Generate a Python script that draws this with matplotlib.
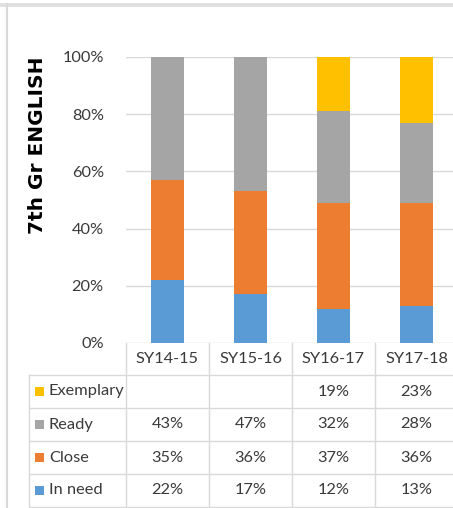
import matplotlib.pyplot as plt
from matplotlib.patches import Rectangle
from matplotlib.lines import Line2D

years = ["SY14-15", "SY15-16", "SY16-17", "SY17-18"]
in_need = [22, 17, 12, 13]
close = [35, 36, 37, 36]
ready = [43, 47, 32, 28]
exemplary = [0, 0, 19, 23]
ticks = [0, 20, 40, 60, 80, 100]

names = ["Exemplary", "Ready", "Close", "In need"]
colors = ["#FFC000", "#A5A5A5", "#ED7D31", "#5B9BD5"]
rows = [exemplary, ready, close, in_need]

W, H = 453, 508
fig = plt.figure(figsize=(W / 100, H / 100), dpi=100)
plt.rcParams['font.family'] = ['Lato', 'DejaVu Sans']
fs = 11.8
tc = "#3A3A3A"


def fx(px):
    return px / W


def fy(py):
    return 1 - py / H


# chart frame
fig.add_artist(Rectangle((0, fy(6.5)), 1, 4 / H, transform=fig.transFigure,
                         color="#E0E0E0", lw=0))
fig.add_artist(Line2D([fx(6.5), fx(6.5)], [0, fy(4)], transform=fig.transFigure,
                      color="#D9D9D9", lw=1.5))

x0, x1 = 126, 458
y100, y0 = 57, 343
ax = fig.add_axes([fx(x0), fy(y0), fx(x1) - fx(x0), fy(y100) - fy(y0)])
xs = range(len(years))
bottom = [0] * len(years)
for vals, col in [(in_need, "#5B9BD5"), (close, "#ED7D31"), (ready, "#A5A5A5"),
                  (exemplary, "#FFC000")]:
    ax.bar(xs, vals, 0.4, bottom=bottom, color=col, zorder=3)
    bottom = [b + v for b, v in zip(bottom, vals)]
ax.set_xlim(-0.5, 3.5)
ax.set_ylim(0, 100)
ax.set_yticks(ticks)
ax.set_yticklabels([f"{t}%" for t in ticks], fontsize=fs, color=tc)
ax.tick_params(axis="y", length=0, pad=16)
ax.set_xticks([])
ax.grid(axis="y", color="#D9D9D9", lw=1, zorder=0)
for s in ax.spines.values():
    s.set_visible(False)

fig.text(fx(38), fy(145), "7th Gr ENGLISH", rotation=90, ha="center", va="center",
         fontsize=14.5, fontweight="bold", family="DejaVu Sans", color="#000000")

# data table
lc = "#D9D9D9"
col_w = (x1 - x0) / len(years)
row_tops = [343, 375, 408, 441, 474, 507]


def hline(y, xa, xb):
    fig.add_artist(Line2D([fx(xa), fx(xb)], [fy(y), fy(y)], transform=fig.transFigure,
                          color=lc, lw=1))


def vline(x, ya, yb):
    fig.add_artist(Line2D([fx(x), fx(x)], [fy(ya), fy(yb)], transform=fig.transFigure,
                          color=lc, lw=1))


for i in range(len(years) + 1):
    vline(x0 + i * col_w, 343, 507)
vline(29, 375, 507)
for y in row_tops[1:]:
    hline(y, 29, x1)

for i, yr in enumerate(years):
    fig.text(fx(x0 + (i + 0.5) * col_w), fy((343 + 375) / 2), yr, ha="center",
             va="center", fontsize=fs, color=tc)

for r, (name, col, vals) in enumerate(zip(names, colors, rows)):
    yc = (row_tops[r + 1] + row_tops[r + 2]) / 2
    fig.add_artist(Rectangle((fx(35), fy(yc + 4.5)), 9 / W, 9 / H,
                             transform=fig.transFigure, color=col, lw=0))
    fig.text(fx(49), fy(yc), name, ha="left", va="center", fontsize=fs, color=tc)
    for i, v in enumerate(vals):
        if v:
            fig.text(fx(x0 + (i + 0.5) * col_w), fy(yc), f"{v}%", ha="center",
                     va="center", fontsize=fs, color=tc)

fig.savefig("out.png", dpi=100)
